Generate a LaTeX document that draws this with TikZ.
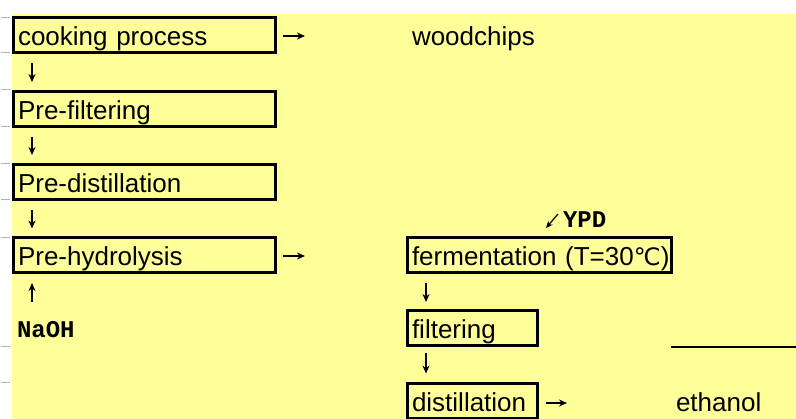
\documentclass[tikz,border=0pt]{standalone}
\usepackage{fontspec}
\setmainfont{Liberation Sans}
\newfontfamily\monofnt{Liberation Mono}
\newfontfamily\symfnt{DejaVu Sans}
\usetikzlibrary{arrows.meta}
\definecolor{bgyellow}{RGB}{255,255,153}
\begin{document}
\begin{tikzpicture}[x=1pt,y=-1pt,
  box/.style={draw=black, line width=3pt, inner xsep=4.5pt, inner ysep=0pt, outer sep=0pt,
    minimum height=35pt, text height=21pt, text depth=0pt, align=left,
    font=\fontsize{26}{30}\selectfont},
  lbl/.style={inner sep=0pt, outer sep=0pt, anchor=base west, font=\fontsize{26}{30}\selectfont},
  mlbl/.style={inner sep=0pt, outer sep=0pt, anchor=base west, font=\monofnt\bfseries\fontsize{24}{28}\selectfont},
  arr/.style={line width=1.3pt, -{Stealth[length=8pt,width=7pt]}},
  tick/.style={black!30, line width=1pt}
]
\useasboundingbox (0,0) rectangle (796,419);
\fill[white] (0,0) rectangle (796,419);
\fill[bgyellow] (12,14) rectangle (796,419);
\foreach \yy in {18,53,90,127,164,200,238,347,383} \draw[tick] (1,\yy) -- (10,\yy);

% left column
\node[box, text width=253pt] (b1) at (144.5,35) {cooking process};
\node[box, text width=253pt] (b2) at (144.5,109) {Pre-filtering};
\node[box, text width=253pt] (b3) at (144.5,182) {Pre-distillation};
\node[box, text width=253pt] (b4) at (144.5,255.5) {Pre-hydrolysis};
\node[mlbl] (naoh) at (17,338) {NaOH};
\node[lbl] (wood) at (412,45.5) {woodchips};

% right column
\node[box, text width=255pt] (b5) at (539.5,255) {\makebox[255pt][l]{fermentation (T=30{\symfnt\fontsize{24}{28}\selectfont ℃})}};
\node[box, text width=121pt] (b6) at (472.5,328) {filtering};
\node[box, text width=121pt] (b7) at (472.5,401) {distillation};
\node[mlbl, text height=14pt, text depth=0pt] (ypd) at (563,228) {YPD};
\node[lbl] (eth) at (676,412) {ethanol};

% connectors
\coordinate (cl) at (32,0);
\coordinate (cr) at (426,0);
\draw[arr, shorten <=10.5pt, shorten >=9.5pt] (b1.south -| cl) -- (b2.north -| cl);
\draw[arr, shorten <=10.5pt, shorten >=9.5pt] (b2.south -| cl) -- (b3.north -| cl);
\draw[arr, shorten <=10.5pt, shorten >=9.5pt] (b3.south -| cl) -- (b4.north -| cl);
\draw[arr, shorten <=20pt, shorten >=10pt] (naoh.north -| cl) -- (b4.south -| cl);
\draw[arr, shorten <=11pt, shorten >=8.5pt] (b5.south -| cr) -- (b6.north -| cr);
\draw[arr, shorten <=8pt, shorten >=10pt] (b6.south -| cr) -- (b7.north -| cr);

\coordinate (e1) at (305,36);
\coordinate (e4) at (305,256);
\coordinate (e7) at (567,403);
\draw[arr, shorten <=7.5pt] (b1.east |- e1) -- (e1);
\draw[arr, shorten <=7.5pt] (b4.east |- e4) -- (e4);
\draw[arr, shorten <=8.5pt] (b7.east |- e7) -- (e7);

\coordinate (ytip) at (546,228);
\draw[line width=1.2pt, -{Stealth[length=7pt,width=6pt]}] ([xshift=-5pt]ypd.north west) -- (ytip);

\draw[line width=1.5pt] (671,347) -- (796,347);
\end{tikzpicture}
\end{document}
